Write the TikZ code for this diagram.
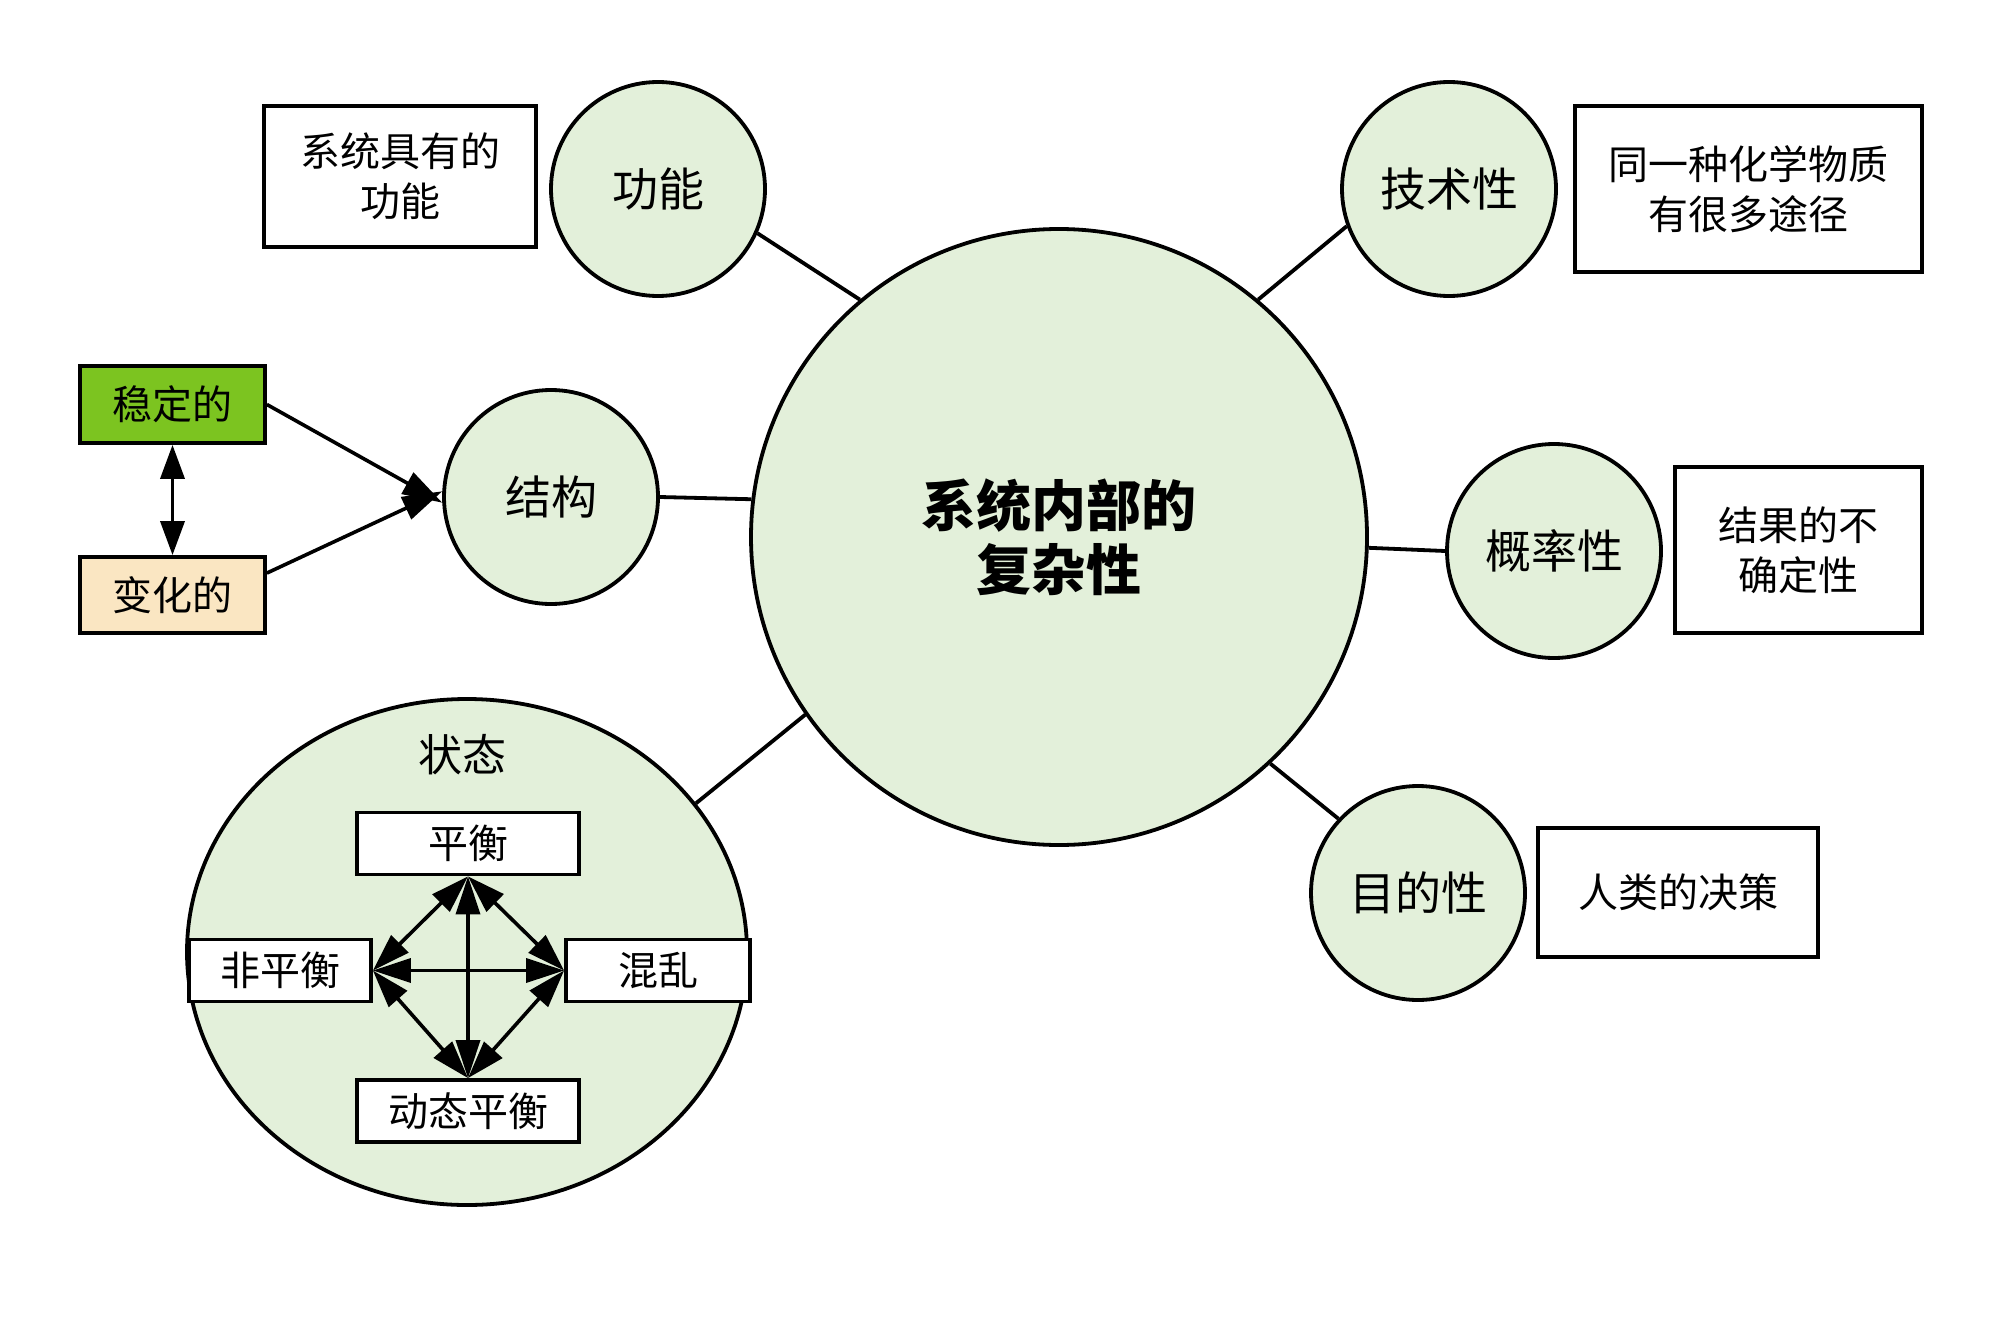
\documentclass[tikz,border=0pt]{standalone}
\usepackage{fontspec}
\setmainfont{Noto Sans CJK SC}
\usetikzlibrary{arrows.meta,calc,shapes.geometric}
\definecolor{cfill}{RGB}{227,240,218}
\definecolor{stablec}{RGB}{124,196,32}
\definecolor{changec}{RGB}{250,230,194}
\begin{document}
\begin{tikzpicture}[x=0.5pt,y=-0.5pt,
  bub/.style={circle,draw,line width=1.9pt,fill=cfill,minimum size=107pt,inner sep=0pt,font=\fontsize{23}{28}\selectfont},
  txtbox/.style={draw,line width=1.9pt,fill=white,inner sep=0pt,align=center,font=\fontsize{20}{25}\selectfont},
  inbox/.style={draw,line width=1.9pt,fill=white,inner sep=0pt,align=center,font=\fontsize{20}{24}\selectfont,minimum height=31pt},
  link/.style={line width=1.9pt},
  arr/.style={line width=1.8pt,{Triangle[length=19pt,width=12pt]}-{Triangle[length=19pt,width=12pt]}},
  arr1/.style={line width=1.8pt,-{Triangle[length=20pt,width=12pt]}}
]
\useasboundingbox (0,0) rectangle (2000,1321);
\fill[white] (0,0) rectangle (2000,1321);

% main
\node[bub,minimum size=308pt,font=\fontsize{27.5}{32}\selectfont\bfseries,align=center] (main) at (1059,537) {系统内部的\\复杂性};

% 功能
\node[bub] (c1) at (658,189) {功能};
\node[txtbox,minimum width=136pt,minimum height=70.5pt] (b1) at (400,176.5) {系统具有的\\功能};

% 技术性
\node[bub] (c2) at (1449,189) {技术性};
\node[txtbox,minimum width=173.5pt,minimum height=83pt] (b2) at (1748.5,189) {同一种化学物质\\有很多途径};

% 结构
\node[bub] (c3) at (551,497) {结构};
\node[txtbox,fill=stablec,minimum width=92.5pt,minimum height=38.5pt] (s) at (172.5,404.5) {稳定的};
\node[txtbox,fill=changec,minimum width=92.5pt,minimum height=38pt] (v) at (172.5,595) {变化的};

% 概率性
\node[bub] (c4) at (1554,551) {概率性};
\node[txtbox,minimum width=123.5pt,minimum height=83pt] (b4) at (1798.5,550) {结果的不\\确定性};

% 目的性
\node[bub] (c5) at (1418,893) {目的性};
\node[txtbox,minimum width=140pt,minimum height=64.5pt] (b5) at (1678,892.5) {人类的决策};

% 状态
\node[ellipse,draw,line width=1.9pt,fill=cfill,minimum width=280pt,minimum height=253pt,inner sep=0pt] (st) at (467,952) {};
\node[font=\fontsize{22}{26}\selectfont] (stl) at (462,755) {状态};
\node[inbox,minimum width=111pt] (p) at (468,843.5) {平衡};
\node[inbox,minimum width=91pt] (np) at (280,970.5) {非平衡};
\node[inbox,minimum width=92pt] (hl) at (658,970.5) {混乱};
\node[inbox,minimum width=111pt] (dp) at (468,1111) {动态平衡};

% links to main
\draw[link] (c1.-24) -- (main.130);
\draw[link] (c2.200) -- (main.50);
\draw[link] (c3.east) -- (main.173);
\draw[link] (c4.west) -- (main.-2);
\draw[link] (c5.137) -- (main.-47);
\draw[link] (st.33) -- (main.215);

% structure arrows
\draw[arr1] (s.east) -- (c3.183);
\draw[arr1] ($(v.east)!0.55!(v.north east)$) -- (c3.177);
\draw[line width=1.8pt,{Triangle[length=17pt,width=12pt]}-{Triangle[length=17pt,width=12pt]}] (s.south) -- (v.north);

% state arrows
\draw[arr] (p.south) -- (dp.north);
\draw[arr] (np.east) -- (hl.west);
\draw[arr] (p.south) -- (np.east);
\draw[arr] (p.south) -- (hl.west);
\draw[arr] (dp.north) -- (np.east);
\draw[arr] (dp.north) -- (hl.west);
\end{tikzpicture}
\end{document}
